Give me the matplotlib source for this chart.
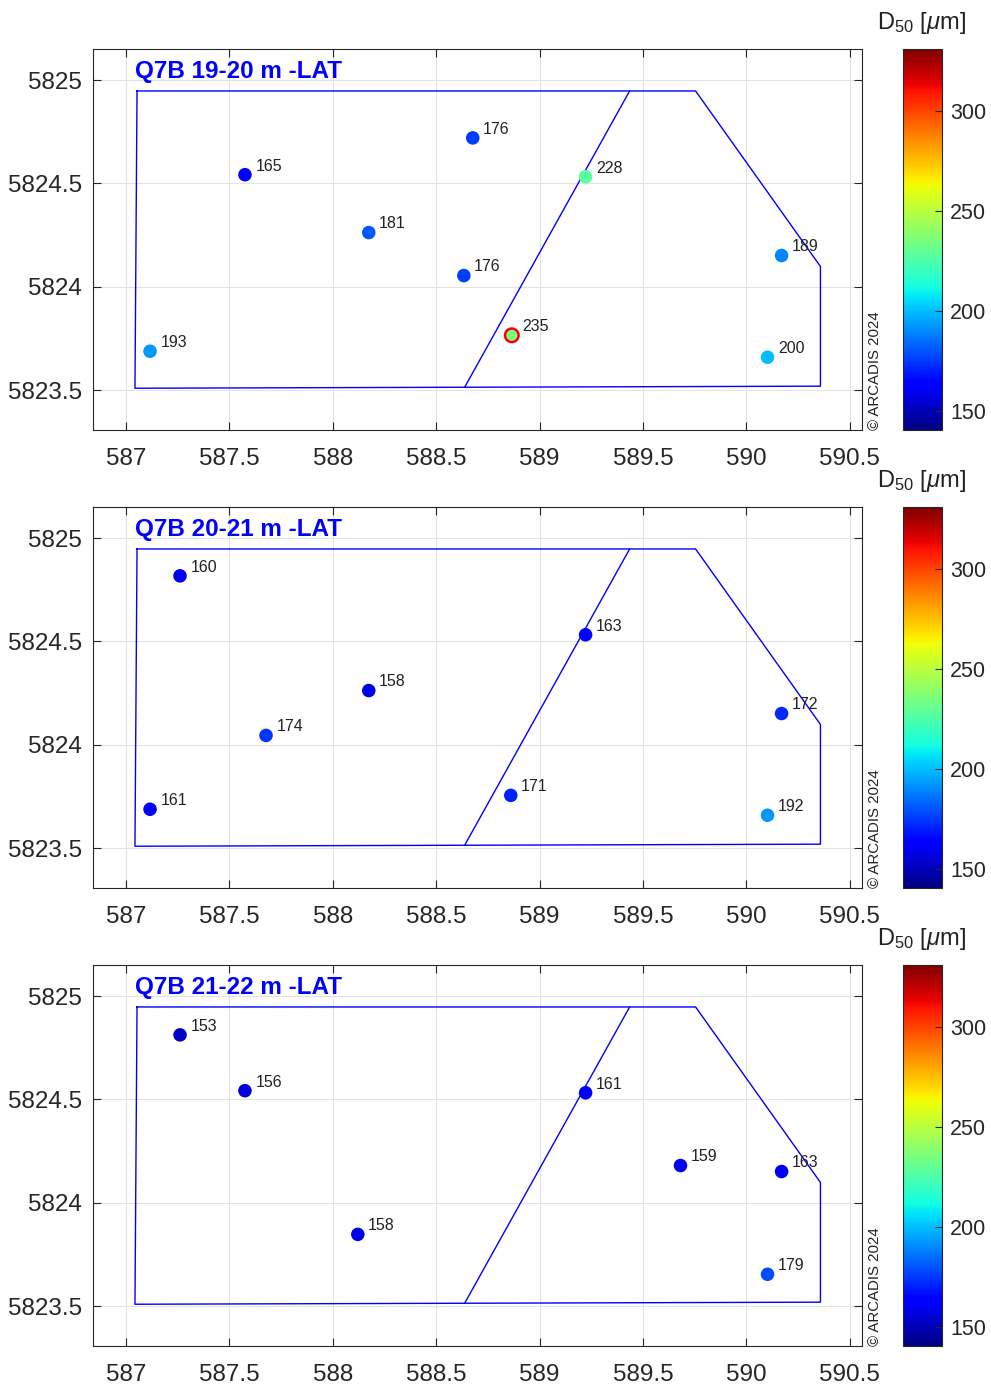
import matplotlib.pyplot as plt
import numpy as np

plt.rcParams['font.family'] = ['Liberation Sans', 'DejaVu Sans']
plt.rcParams['mathtext.fontset'] = 'custom'
plt.rcParams['mathtext.rm'] = 'Liberation Sans'
plt.rcParams['mathtext.it'] = 'Liberation Sans:italic'

# survey area outline (km) and split line
poly_x = [587.053, 589.755, 590.359, 590.359, 587.043, 587.053]
poly_y = [5824.947, 5824.947, 5824.098, 5823.519, 5823.509, 5824.947]
split_x = [588.638, 589.436]
split_y = [5823.514, 5824.947]

titles = ['Q7B 19-20 m -LAT', 'Q7B 20-21 m -LAT', 'Q7B 21-22 m -LAT']

# layer 19-20
x1 = [587.575, 588.677, 589.223, 588.174, 588.634, 590.171, 587.116, 588.866, 590.103]
y1 = [5824.542, 5824.720, 5824.532, 5824.262, 5824.054, 5824.151, 5823.688, 5823.765, 5823.659]
d1 = [165, 176, 228, 181, 176, 189, 193, 235, 200]
# layer 20-21
x2 = [587.261, 589.223, 588.174, 587.677, 590.171, 587.116, 588.861, 590.103]
y2 = [5824.817, 5824.532, 5824.262, 5824.045, 5824.151, 5823.688, 5823.755, 5823.659]
d2 = [160, 163, 158, 174, 172, 161, 171, 192]
# layer 21-22
x3 = [587.261, 587.575, 589.223, 589.682, 590.171, 588.121, 590.103]
y3 = [5824.812, 5824.542, 5824.532, 5824.180, 5824.151, 5823.847, 5823.654]
d3 = [153, 156, 161, 159, 163, 158, 179]

highlight = [235]  # sample marked with red ring

layers = [(x1, y1, d1), (x2, y2, d2), (x3, y3, d3)]
clim = (140.5, 331)

fig = plt.figure(figsize=(9.91, 13.87), dpi=100)
tops = [49, 507, 965]
for i, (xs, ys, ds) in enumerate(layers):
    top = tops[i]
    ax = fig.add_axes([93/991, 1 - (top + 381)/1387, 769/991, 381/1387])
    ax.grid(True, color='#e3e3e3', linewidth=0.8)
    ax.set_axisbelow(True)
    ax.plot(poly_x, poly_y, color='blue', linewidth=1)
    ax.plot(split_x, split_y, color='blue', linewidth=1)
    edge = ['red' if d in highlight else 'none' for d in ds]
    sc = ax.scatter(xs, ys, c=ds, cmap='jet', vmin=clim[0], vmax=clim[1], s=95,
                    edgecolors=edge, linewidths=1.8, zorder=3)
    for x, y, d in zip(xs, ys, ds):
        ax.text(x + 0.05, y + 0.02, str(d), fontsize=11.5, color='#222222', zorder=4)
    ax.set_xlim(586.84, 590.56)
    ax.set_ylim(5823.307, 5825.15)
    ax.set_xticks([587, 587.5, 588, 588.5, 589, 589.5, 590, 590.5])
    ax.set_xticklabels(['587', '587.5', '588', '588.5', '589', '589.5', '590', '590.5'])
    ax.set_yticks([5823.5, 5824, 5824.5, 5825])
    ax.set_yticklabels(['5823.5', '5824', '5824.5', '5825'])
    ax.tick_params(direction='in', top=True, right=True, labelsize=17.5,
                   colors='#262626', length=6)
    ax.tick_params(axis='x', pad=13)
    ax.tick_params(axis='y', pad=8)
    for sp in ax.spines.values():
        sp.set_color('#262626')
        sp.set_linewidth(0.8)
    ax.text(0.055, 0.972, titles[i], transform=ax.transAxes, color='blue',
            fontsize=17.5, fontweight='bold', va='top', ha='left')
    ax.text(1.008, 0.0, '\u00a9 ARCADIS 2024', transform=ax.transAxes, rotation=90,
            fontsize=10.8, color='#222222', va='bottom', ha='left')

    cax = fig.add_axes([903/991, 1 - (top + 381)/1387, 39/991, 381/1387])
    cb = fig.colorbar(sc, cax=cax)
    cb.set_ticks([150, 200, 250, 300])
    cb.ax.tick_params(direction='in', labelsize=15.5, colors='#262626', length=5, pad=6)
    cb.outline.set_linewidth(0.8)
    cb.outline.set_edgecolor('#262626')
    fig.text(921/991, 1 - (top - 26)/1387, 'D$_{50}$ [$\\mu$m]', fontsize=17,
             color='#222222', ha='center', va='center')

fig.savefig('out.png', dpi=100)
